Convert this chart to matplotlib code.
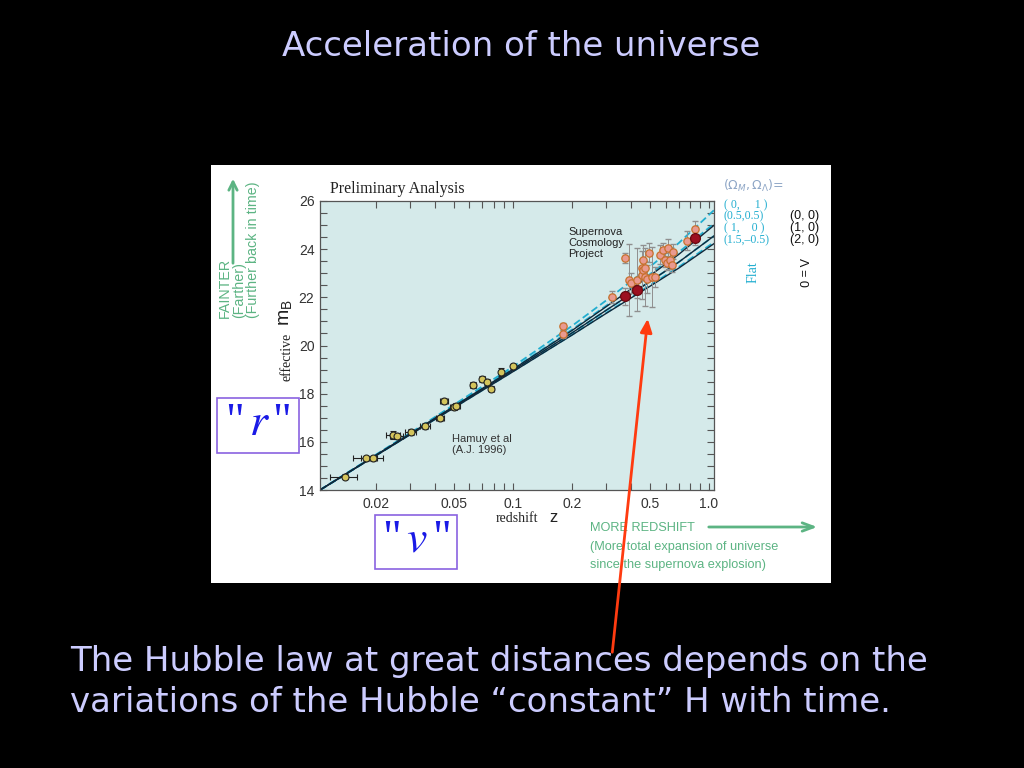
import matplotlib.pyplot as plt
from matplotlib.patches import Rectangle, FancyArrowPatch
from matplotlib.ticker import FixedLocator, FixedFormatter, LogLocator, NullFormatter, MultipleLocator

# --- data ---
# low redshift supernovae (Hamuy et al 1996)
ham_z = [0.0139, 0.0179, 0.0194, 0.0245, 0.0257, 0.0301, 0.0356, 0.0425, 0.0445,
         0.0500, 0.0515, 0.0627, 0.0700, 0.0740, 0.0778, 0.0868, 0.0997]
ham_m = [14.55, 15.31, 15.31, 16.28, 16.25, 16.41, 16.66, 16.97, 17.70,
         17.46, 17.50, 18.35, 18.60, 18.50, 18.21, 18.90, 19.14]
ham_zerr = [0.0022, 0.0025, 0.0025, 0.002, 0.002, 0.002, 0.002, 0.002, 0.002,
            0.002, 0.002, 0.002, 0.002, 0.002, 0.002, 0.002, 0.002]
ham_merr = [0.10, 0.10, 0.10, 0.15, 0.12, 0.12, 0.12, 0.12, 0.12,
            0.12, 0.12, 0.12, 0.12, 0.12, 0.12, 0.15, 0.10]

# high redshift supernovae (Supernova Cosmology Project)
scp_z = [0.180, 0.180, 0.319, 0.373, 0.373, 0.390, 0.400, 0.428, 0.428, 0.454,
         0.454, 0.462, 0.462, 0.472, 0.472, 0.485, 0.496, 0.510, 0.530, 0.562,
         0.584, 0.596, 0.610, 0.620, 0.630, 0.645, 0.657, 0.769, 0.848, 0.848]
scp_m = [20.80, 20.48, 22.02, 22.04, 23.63, 22.73, 22.60, 22.73, 22.32, 22.94,
         23.20, 23.15, 23.56, 22.84, 23.20, 22.76, 23.86, 22.84, 22.84, 23.77,
         23.97, 23.56, 23.42, 24.04, 23.56, 23.35, 23.90, 24.35, 24.83, 24.48]
scp_err = [0.15, 0.15, 0.25, 0.35, 0.20, 1.50, 0.40, 1.30, 0.35, 1.00,
           0.40, 0.30, 0.60, 1.20, 0.30, 0.60, 0.40, 1.25, 0.40, 0.40,
           0.30, 0.30, 0.30, 0.40, 0.40, 0.30, 0.30, 0.40, 0.35, 0.30]
scp_dark = [3, 8, 29]

# model curves (read at a few redshifts)
model_z = [0.0104, 0.03, 0.1, 0.2, 0.3, 0.5, 0.7, 1.06]
flat_models = {
    '(0, 1)':      [14.0, 16.37, 19.12, 20.81, 21.88, 23.27, 24.25, 25.62],
    '(0.5, 0.5)':  [14.0, 16.34, 19.03, 20.66, 21.66, 22.96, 23.87, 25.06],
    '(1, 0)':      [14.0, 16.32, 18.96, 20.52, 21.47, 22.66, 23.46, 24.55],
    '(1.5, -0.5)': [14.0, 16.31, 18.92, 20.44, 21.36, 22.50, 23.26, 24.29],
}
lambda0_models = {
    '(0, 0)': [14.0, 16.34, 19.01, 20.62, 21.62, 22.90, 23.78, 24.99],
    '(1, 0)': [14.0, 16.32, 18.96, 20.52, 21.47, 22.66, 23.46, 24.55],
    '(2, 0)': [14.0, 16.30, 18.91, 20.43, 21.34, 22.46, 23.21, 24.23],
}

xticks = [0.02, 0.05, 0.1, 0.2, 0.5, 1.0]
xticklabels = ['0.02', '0.05', '0.1', '0.2', '0.5', '1.0']
yticks = [14, 16, 18, 20, 22, 24, 26]

W, H = 1024, 768
def fx(x):
    return x / W
def fy(y):
    return 1 - y / H

slide_txt = '#ccccff'
green = '#5cb483'
cyan = '#22aed0'

fig = plt.figure(figsize=(10.24, 7.68), dpi=100, facecolor='black')

# white picture pasted on the slide
fig.add_artist(Rectangle((fx(211), fy(583)), 620 / W, 418 / H, transform=fig.transFigure,
                         facecolor='white', edgecolor='none', zorder=0))

ax = fig.add_axes([fx(320), fy(490), (714 - 320) / W, (490 - 201) / H])
ax.set_facecolor('#d5eaea')
ax.set_xscale('log')

for name, vals in flat_models.items():
    ax.plot(model_z, vals, color=cyan, lw=1.3, ls=(0, (4, 2)), zorder=2)
for name, vals in lambda0_models.items():
    ax.plot(model_z, vals, color='#10283a', lw=1.0, zorder=2)

ax.errorbar(ham_z, ham_m, xerr=ham_zerr, yerr=ham_merr, fmt='o', ms=5,
            mfc='#d4c45c', mec='#222222', mew=0.8, ecolor='#222222',
            elinewidth=0.8, capsize=2, zorder=4)

ax.errorbar(scp_z, scp_m, yerr=scp_err, fmt='none', ecolor='#8f8f8f',
            elinewidth=0.7, capsize=2, zorder=3)
light = [i for i in range(len(scp_z)) if i not in scp_dark]
ax.scatter([scp_z[i] for i in light], [scp_m[i] for i in light], s=28,
           facecolor='#e99a90', edgecolor='#c8702c', linewidth=0.9, zorder=5)
ax.scatter([scp_z[i] for i in scp_dark], [scp_m[i] for i in scp_dark], s=50,
           facecolor='#9c1020', edgecolor='#6a0a10', linewidth=0.9, zorder=6)

ax.set_xlim(0.0104, 1.06)
ax.set_ylim(14, 26)
ax.xaxis.set_major_locator(FixedLocator(xticks))
ax.xaxis.set_major_formatter(FixedFormatter(xticklabels))
ax.xaxis.set_minor_locator(LogLocator(base=10, subs=range(1, 10)))
ax.xaxis.set_minor_formatter(NullFormatter())
ax.yaxis.set_major_locator(FixedLocator(yticks))
ax.yaxis.set_minor_locator(MultipleLocator(0.5))
ax.tick_params(which='both', direction='in', top=True, right=True, length=5,
               width=0.8, color='#555555', labelcolor='#333333')
ax.tick_params(axis='x', labelsize=10, pad=5)
ax.tick_params(axis='y', labelsize=10, pad=4)
for lab in ax.get_xticklabels() + ax.get_yticklabels():
    lab.set_family('Liberation Sans')
for s in ax.spines.values():
    s.set_color('#555555')
    s.set_linewidth(0.9)

# texts inside the picture
fig.text(fx(330), fy(189), 'Preliminary Analysis', family='Liberation Serif',
         fontsize=11.5, color='#222222', va='center')
ax.text(0.63, 0.91, 'Supernova\nCosmology\nProject', transform=ax.transAxes,
        family='Liberation Sans', fontsize=8, color='#222222', va='top', linespacing=1.15)
ax.text(0.335, 0.195, 'Hamuy et al\n(A.J. 1996)', transform=ax.transAxes,
        family='Liberation Sans', fontsize=8, color='#333333', va='top', linespacing=1.15)
fig.text(fx(287), fy(357), 'effective', family='Liberation Serif', fontsize=10,
         rotation=90, ha='center', va='center', color='#222222')
fig.text(fx(286), fy(313), r'$\mathregular{m_B}$', family='Liberation Sans', fontsize=14,
         rotation=90, ha='center', va='center', color='#222222')
fig.text(fx(517), fy(519), 'redshift', family='Liberation Serif', fontsize=10,
         ha='center', va='center', color='#222222')
fig.text(fx(553), fy(518), 'z', family='Liberation Sans', fontsize=12,
         ha='center', va='center', color='#222222')

# legend of models
fig.text(fx(723), fy(186), r'$(\Omega_M,\Omega_\Lambda)$=', fontsize=9,
         color='#8ea6c6', va='center')
for i, lab in enumerate(['( 0,     1 )', '(0.5,0.5)', '( 1,    0 )', '(1.5,\u20130.5)']):
    fig.text(fx(724), fy(205 + 11.7 * i), lab, family='Liberation Serif', fontsize=8.5,
             color=cyan, va='center')
for i, lab in enumerate(['(0, 0)', '(1, 0)', '(2, 0)']):
    fig.text(fx(790), fy(216.5 + 11.7 * i), lab, family='Liberation Sans', fontsize=9,
             color='#111111', va='center')
fig.text(fx(753), fy(272), 'Flat', family='Liberation Serif', fontsize=10,
         color=cyan, rotation=90, ha='center', va='center')
fig.text(fx(802), fy(272), '\u039b = 0', family='Liberation Sans', fontsize=9,
         color='#111111', rotation=270, ha='center', va='center')

# green annotations
fig.text(fx(239), fy(318), 'FAINTER\n(Farther)\n(Further back in time)',
         family='Liberation Sans', fontsize=10.3, color=green, rotation=90,
         ha='center', va='bottom', multialignment='left', linespacing=1.0)
fig.add_artist(FancyArrowPatch((fx(233), fy(266)), (fx(233), fy(176)),
                               transform=fig.transFigure, arrowstyle='->,head_length=6,head_width=3',
                               color=green, lw=2))
fig.text(fx(590), fy(528), 'MORE REDSHIFT', family='Liberation Sans', fontsize=9.2,
         color=green, va='center')
fig.text(fx(590), fy(547), '(More total expansion of universe', family='Liberation Sans',
         fontsize=9.2, color=green, va='center')
fig.text(fx(590), fy(565), 'since the supernova explosion)', family='Liberation Sans',
         fontsize=9.2, color=green, va='center')
fig.add_artist(FancyArrowPatch((fx(706), fy(527)), (fx(820), fy(527)),
                               transform=fig.transFigure, arrowstyle='->,head_length=8,head_width=3',
                               color=green, lw=2))

# "r" and "v" boxes
for (x0, y0, x1, y1), lab in [((217, 398, 299, 453), '"$\\,\\mathit{r}\\,$"'),
                              ((375, 515, 457, 569), '"$\\,\\mathit{v}\\,$"')]:
    fig.add_artist(Rectangle((fx(x0), fy(y1)), (x1 - x0) / W, (y1 - y0) / H,
                             transform=fig.transFigure, facecolor='white',
                             edgecolor='#8a62e0', lw=1.2, zorder=5))
    fig.text(fx((x0 + x1) / 2), fy((y0 + y1) / 2 - 2), lab, fontsize=33,
             color='#1a1ae6', ha='center', va='center', zorder=6,
             family='Liberation Serif', math_fontfamily='stix')

# slide title and caption
fig.text(fx(521), fy(47), 'Acceleration of the universe', family='DejaVu Sans',
         fontsize=24.5, color=slide_txt, ha='center', va='center')
fig.text(fx(70), fy(662), 'The Hubble law at great distances depends on the',
         family='DejaVu Sans', fontsize=24.5, color=slide_txt, va='center')
fig.text(fx(70), fy(703), 'variations of the Hubble \u201cconstant\u201d H with time.',
         family='DejaVu Sans', fontsize=24.5, color=slide_txt, va='center')

# red arrow
fig.add_artist(FancyArrowPatch((fx(612), fy(655)), (fx(648), fy(316)),
                               transform=fig.transFigure, arrowstyle='-|>,head_length=8,head_width=3.5',
                               color='#ff3b10', lw=2, zorder=7))

fig.savefig('out.png', dpi=100, facecolor='black')
